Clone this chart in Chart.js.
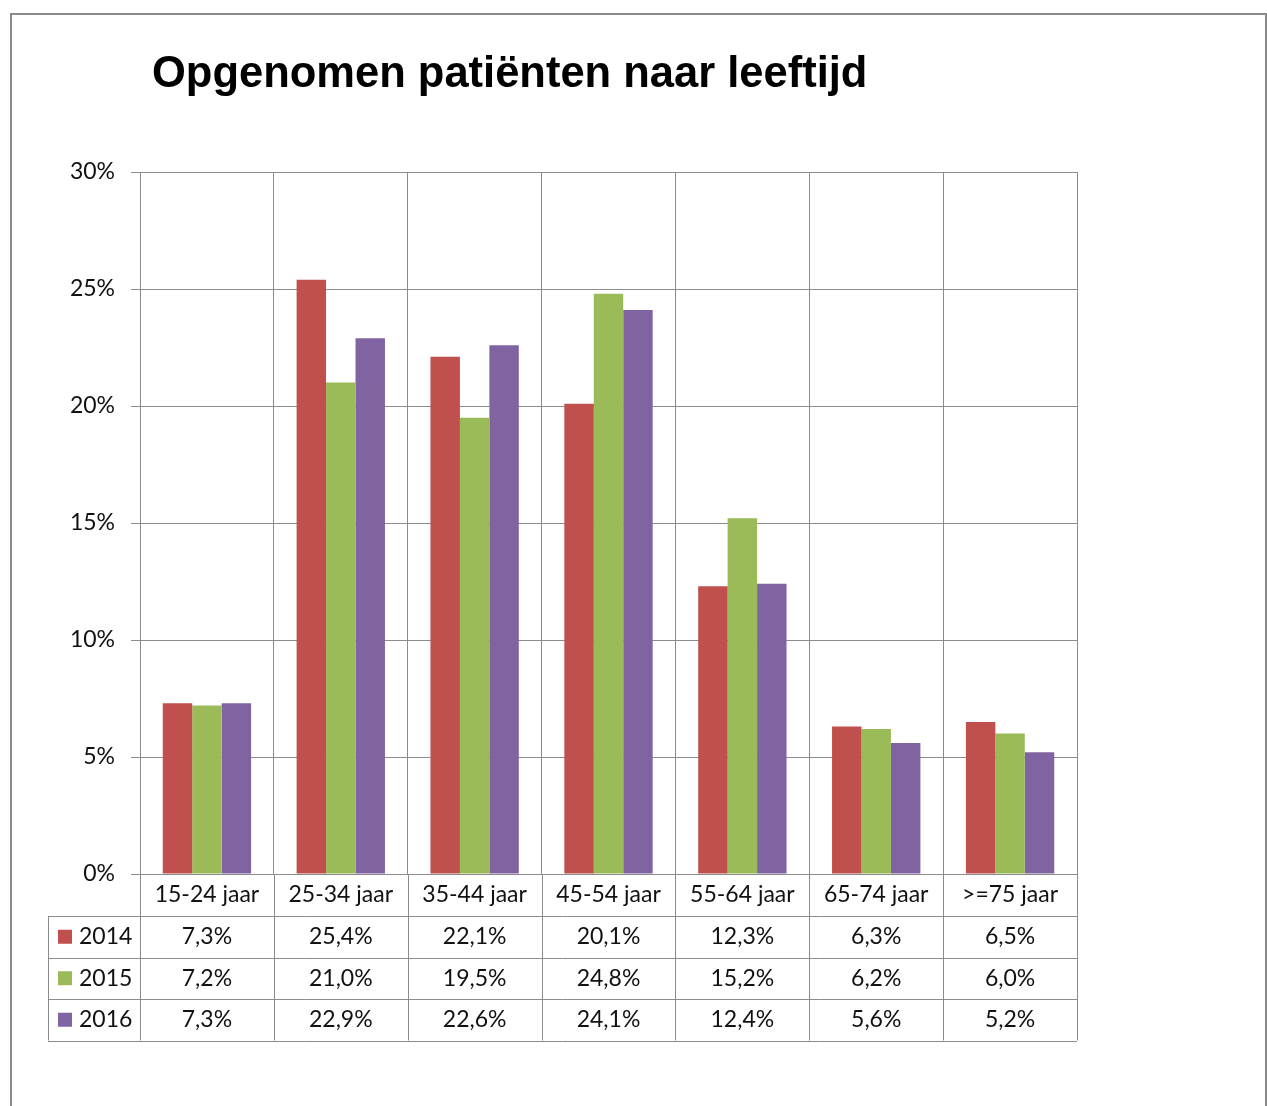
<!DOCTYPE html>
<html>
<head>
<meta charset="utf-8">
<script src="https://cdn.jsdelivr.net/npm/chart.js@4"></script>
<style>
html, body { margin: 0; padding: 0; background: #fff; overflow: hidden; }
#frame { position: absolute; left: 10px; top: 13px; width: 1253px; height: 1200px; border: 2px solid #8a8a8a; }
#wrap { position: absolute; left: 0; top: 0; width: 1267px; height: 1106px; }
</style>
</head>
<body>
<div id="frame"></div>
<div id="wrap"><canvas id="chart"></canvas></div>
<script>
const TITLE = 'Opgenomen patiënten naar leeftijd';
const categories = ['15-24 jaar', '25-34 jaar', '35-44 jaar', '45-54 jaar', '55-64 jaar', '65-74 jaar', '>=75 jaar'];
const years = ['2014', '2015', '2016'];
const values2014 = [7.3, 25.4, 22.1, 20.1, 12.3, 6.3, 6.5];
const values2015 = [7.2, 21.0, 19.5, 24.8, 15.2, 6.2, 6.0];
const values2016 = [7.3, 22.9, 22.6, 24.1, 12.4, 5.6, 5.2];
const seriesColors = ['#C0504D', '#9BBB59', '#8064A2'];

const GRID = '#8c8c8c';
const FONT = 'Lato, "Open Sans", sans-serif';
const fmt = v => v.toFixed(1).replace('.', ',') + '%';

// title + data table under the plot (Excel style)
const decorations = {
    id: 'decorations',
    afterDraw(chart) {
        const { ctx, chartArea } = chart;
        const series = chart.data.datasets;
        const colW = (chartArea.right - chartArea.left) / categories.length;
        const headBottom = chartArea.bottom + 42;
        const rowH = 41.5;
        const tableLeft = 48;
        const tableBottom = headBottom + rowH * series.length;

        ctx.save();
        // title
        ctx.fillStyle = '#000';
        ctx.font = 'bold 43.5px "Liberation Sans", Arial, sans-serif';
        ctx.textAlign = 'left';
        ctx.textBaseline = 'alphabetic';
        ctx.fillText(TITLE, 152, 87);

        // table lines
        ctx.strokeStyle = GRID;
        ctx.lineWidth = 1;
        ctx.beginPath();
        for (let i = 0; i <= categories.length; i++) {
            const x = Math.round(chartArea.left + i * colW) + 0.5;
            ctx.moveTo(x, chartArea.bottom);
            ctx.lineTo(x, tableBottom);
        }
        for (let r = 0; r <= series.length; r++) {
            const y = Math.round(headBottom + r * rowH) + 0.5;
            ctx.moveTo(tableLeft, y);
            ctx.lineTo(chartArea.right, y);
        }
        ctx.moveTo(tableLeft + 0.5, headBottom);
        ctx.lineTo(tableLeft + 0.5, tableBottom);
        ctx.stroke();

        // rows
        ctx.font = '23px ' + FONT;
        ctx.textBaseline = 'middle';
        series.forEach((ds, r) => {
            const yMid = headBottom + r * rowH + rowH / 2;
            ctx.fillStyle = ds.backgroundColor;
            ctx.fillRect(tableLeft + 10, yMid - 7, 14, 14);
            ctx.fillStyle = '#111';
            ctx.textAlign = 'left';
            ctx.fillText(ds.label, tableLeft + 31, yMid);
            ctx.textAlign = 'center';
            ds.data.forEach((v, i) => {
                ctx.fillText(fmt(v), chartArea.left + (i + 0.5) * colW, yMid);
            });
        });
        ctx.restore();
    }
};

new Chart(document.getElementById('chart'), {
    type: 'bar',
    data: {
        labels: categories,
        datasets: [values2014, values2015, values2016].map((vals, i) => ({
            label: years[i],
            data: vals,
            backgroundColor: seriesColors[i],
            borderWidth: 0,
            categoryPercentage: 0.66,
            barPercentage: 1
        }))
    },
    options: {
        responsive: true,
        maintainAspectRatio: false,
        animation: false,
        layout: { padding: { top: 172, left: 0, right: 190, bottom: 0 } },
        plugins: {
            legend: { display: false },
            title: { display: false },
            tooltip: { enabled: false }
        },
        scales: {
            x: {
                grid: { display: true, offset: true, drawTicks: false, color: GRID, lineWidth: 1 },
                border: { display: true, color: GRID },
                ticks: { color: '#111', font: { family: FONT, size: 23 }, padding: 7, maxRotation: 0, autoSkip: false },
                afterFit: s => { s.height = 232; }
            },
            y: {
                min: 0,
                max: 30,
                grid: { color: GRID, lineWidth: 1, tickLength: 9 },
                border: { display: true, color: GRID },
                ticks: { stepSize: 5, color: '#111', font: { family: FONT, size: 23 }, padding: 16, callback: v => v + '%' },
                afterFit: s => { s.width = 140; }
            }
        }
    },
    plugins: [decorations]
});
</script>
</body>
</html>
